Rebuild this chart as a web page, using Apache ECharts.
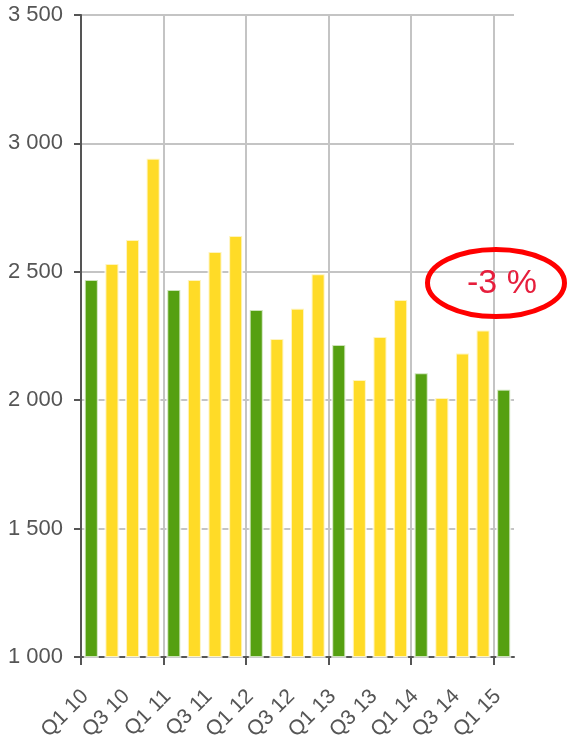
<!DOCTYPE html>
<html>
<head>
<meta charset="utf-8">
<script src="https://cdn.jsdelivr.net/npm/echarts@6/dist/echarts.min.js"></script>
<style>
  html, body { margin: 0; padding: 0; background: #fff; }
  #chart { width: 567px; height: 738px; }
</style>
</head>
<body>
<div id="chart"></div>
<script>
// quarters, Q1 bars are drawn green
var categories = [
  'Q1 10', 'Q2 10', 'Q3 10', 'Q4 10',
  'Q1 11', 'Q2 11', 'Q3 11', 'Q4 11',
  'Q1 12', 'Q2 12', 'Q3 12', 'Q4 12',
  'Q1 13', 'Q2 13', 'Q3 13', 'Q4 13',
  'Q1 14', 'Q2 14', 'Q3 14', 'Q4 14',
  'Q1 15'
]
var values = [
  2472, 2534, 2628, 2944,
  2433, 2472, 2581, 2643,
  2355, 2242, 2360, 2494,
  2219, 2083, 2250, 2394,
  2109, 2012, 2186, 2275,
  2045
]
var yMin = 1000
var yMax = 3500
var yStep = 500
var changeLabel = '-3 %'

var green = '#55a011'
var yellow = '#ffdb27'
var axisColor = '#555555'
var gridColor = '#c4c4c4'
var font = 'Liberation Sans, Arial, sans-serif'

// boundaries between categories, labels sit on the left edge of each quarter
var boundaries = categories.concat([''])

var chart = echarts.init(document.getElementById('chart'))
chart.setOption({
  animation: false,
  grid: {
    left: 81,
    right: 53,
    top: 15,
    bottom: 81,
    containLabel: false,
    outerBoundsMode: 'none'
  },
  xAxis: [
    {
      type: 'category',
      data: categories,
      show: false
    },
    {
      type: 'category',
      data: boundaries,
      boundaryGap: false,
      position: 'bottom',
      axisLine: {
        show: true,
        lineStyle: { color: axisColor, width: 2 }
      },
      axisTick: {
        show: true,
        interval: 3,
        length: 8,
        lineStyle: { color: axisColor, width: 2 }
      },
      splitLine: {
        show: true,
        interval: 3,
        lineStyle: { color: gridColor, width: 2 }
      },
      axisLabel: {
        interval: 1,
        rotate: 45,
        margin: 32,
        color: axisColor,
        fontSize: 21,
        fontFamily: font,
        verticalAlign: 'top',
        lineHeight: 12
      }
    }
  ],
  yAxis: {
    type: 'value',
    min: yMin,
    max: yMax,
    interval: yStep,
    axisLine: {
      show: true,
      lineStyle: { color: axisColor, width: 2 }
    },
    axisTick: {
      show: true,
      length: 7,
      lineStyle: { color: axisColor, width: 2 }
    },
    splitLine: {
      show: true,
      lineStyle: { color: gridColor, width: 2 }
    },
    axisLabel: {
      margin: 18,
      color: axisColor,
      fontSize: 22,
      fontFamily: font,
      formatter: function (v) {
        return String(v).replace(/\B(?=(\d{3})+(?!\d))/g, ' ')
      }
    }
  },
  series: [{
    type: 'bar',
    xAxisIndex: 0,
    data: values,
    barWidth: 15,
    itemStyle: {
      color: function (p) {
        return categories[p.dataIndex].indexOf('Q1') === 0 ? green : yellow
      },
      borderColor: 'rgba(255,255,255,0.7)',
      borderWidth: 2
    }
  }],
  graphic: [
    {
      type: 'ellipse',
      shape: { cx: 496, cy: 283, rx: 68.5, ry: 33.5 },
      style: { fill: 'none', stroke: '#ff0000', lineWidth: 5 },
      z: 100
    },
    {
      type: 'text',
      x: 502,
      y: 284,
      style: {
        text: changeLabel,
        fill: '#e61e3c',
        font: '34px ' + font,
        textAlign: 'center',
        textVerticalAlign: 'middle'
      },
      z: 100
    }
  ]
})
</script>
</body>
</html>
